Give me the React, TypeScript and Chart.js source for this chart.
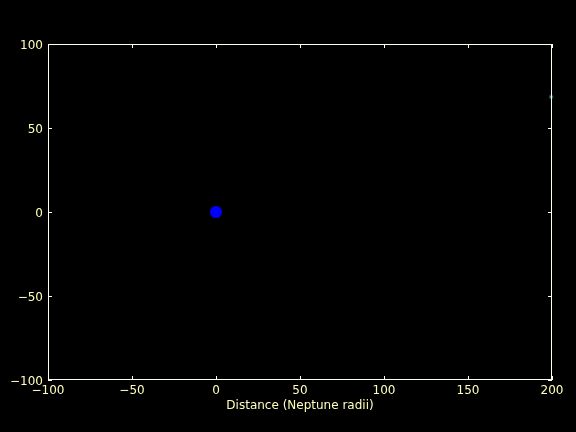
import React, { useEffect, useRef } from "react";
import { Chart, registerables } from "chart.js";

Chart.register(...registerables);

const xTicks = [-100, -50, 0, 50, 100, 150, 200];
const yTicks = [-100, -50, 0, 50, 100];
const neptunePos = [{ x: 0, y: 0 }];
const moonPos = [{ x: 199.5, y: 68.5 }];
const xLabel = "Distance (Neptune radii)";

const TEXT = "#ffffbb";
const FRAME = "#ffffee";

const framePlugin = {
  id: "frame",
  afterDraw(chart: any) {
    const { ctx, chartArea: a, scales } = chart;
    ctx.save();
    ctx.strokeStyle = FRAME;
    ctx.lineWidth = 1;
    ctx.strokeRect(a.left + 0.5, a.top + 0.5, a.right - a.left - 1, a.bottom - a.top - 1);
    const L = 4;
    ctx.beginPath();
    xTicks.forEach((v) => {
      const px = Math.round(scales.x.getPixelForValue(v)) + 0.5;
      ctx.moveTo(px, a.bottom);
      ctx.lineTo(px, a.bottom - L);
      ctx.moveTo(px, a.top);
      ctx.lineTo(px, a.top + L);
    });
    yTicks.forEach((v) => {
      const py = Math.round(scales.y.getPixelForValue(v)) + 0.5;
      ctx.moveTo(a.left, py);
      ctx.lineTo(a.left + L, py);
      ctx.moveTo(a.right, py);
      ctx.lineTo(a.right - L, py);
    });
    ctx.stroke();
    ctx.restore();
  },
};

const bgPlugin = {
  id: "bg",
  beforeDraw(chart: any) {
    const { ctx, width, height } = chart;
    ctx.save();
    ctx.fillStyle = "#000000";
    ctx.fillRect(0, 0, width, height);
    ctx.restore();
  },
};

const fmt = (v: any) => (Number(v) < 0 ? "\u2212" + Math.abs(Number(v)) : String(v));

export default function App() {
  const ref = useRef<HTMLCanvasElement | null>(null);
  useEffect(() => {
    document.body.style.margin = "0";
    document.body.style.background = "#000";
    const chart = new Chart(ref.current as HTMLCanvasElement, {
      type: "scatter",
      data: {
        datasets: [
          {
            data: neptunePos,
            backgroundColor: "#0000ff",
            borderColor: "#0000ff",
            pointRadius: 6,
            borderWidth: 0,
            clip: false,
          } as any,
          {
            data: moonPos,
            backgroundColor: "#3a9a2a",
            borderColor: "#20206a",
            pointRadius: 2,
            borderWidth: 1,
            clip: false,
          } as any,
        ],
      },
      options: {
        animation: false,
        responsive: false,
        devicePixelRatio: 1,
        layout: { padding: { top: 44, right: 24, left: 0, bottom: 19 } },
        plugins: { legend: { display: false }, tooltip: { enabled: false } },
        font: { family: "DejaVu Sans", size: 12 },
        scales: {
          x: {
            type: "linear",
            min: -100,
            max: 200,
            afterFit: (s: any) => {
              s.height = 33;
            },
            afterBuildTicks: (s: any) => {
              s.ticks = xTicks.map((v) => ({ value: v }));
            },
            grid: { display: false, drawTicks: false },
            border: { display: false },
            ticks: {
              color: TEXT,
              padding: 4,
              maxRotation: 0,
              font: { family: "DejaVu Sans", size: 12 },
              callback: fmt,
            },
            title: {
              display: true,
              text: xLabel,
              color: TEXT,
              padding: { top: 1, bottom: 0 },
              font: { family: "DejaVu Sans", size: 12 },
            },
          },
          y: {
            type: "linear",
            min: -100,
            max: 100,
            afterFit: (s: any) => {
              s.width = 48;
            },
            afterBuildTicks: (s: any) => {
              s.ticks = yTicks.map((v) => ({ value: v }));
            },
            grid: { display: false, drawTicks: false },
            border: { display: false },
            ticks: {
              color: TEXT,
              padding: 5,
              labelOffset: 1.5,
              font: { family: "DejaVu Sans", size: 12 },
              callback: fmt,
            },
          },
        },
      },
      plugins: [bgPlugin, framePlugin],
    });
    return () => chart.destroy();
  }, []);
  return (
    <div style={{ position: "absolute", left: 0, top: 0, width: 576, height: 432, background: "#000" }}>
      <canvas ref={ref} width={576} height={432} style={{ width: 576, height: 432, display: "block" }} />
    </div>
  );
}
